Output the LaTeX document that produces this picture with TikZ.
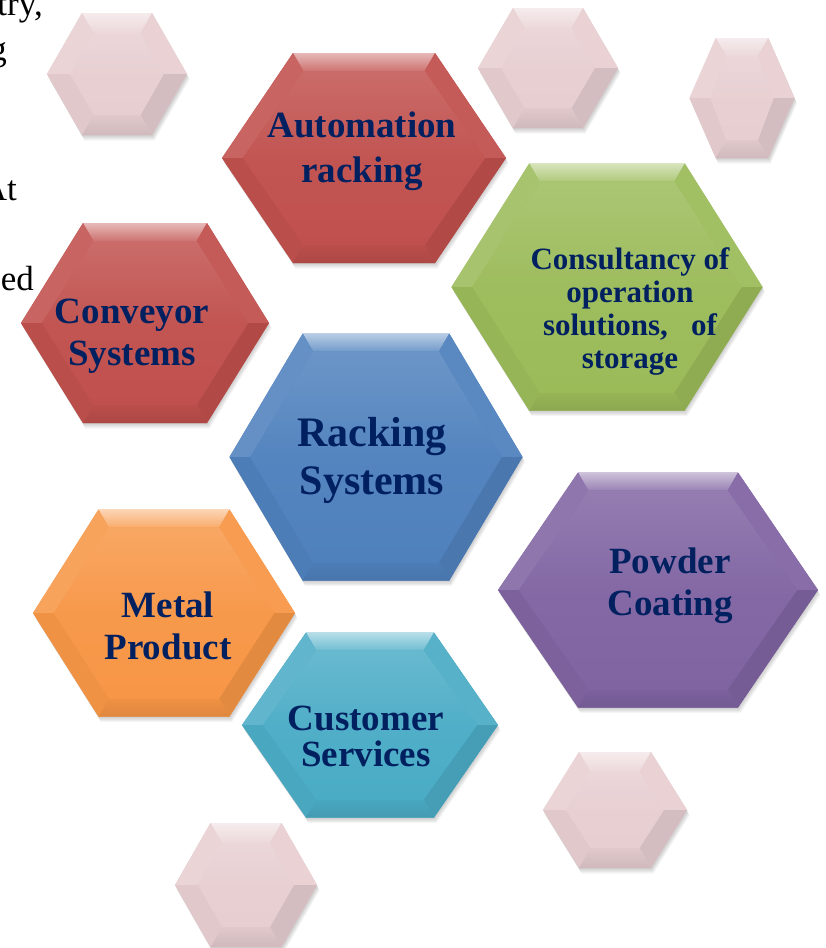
\documentclass[tikz,border=0pt]{standalone}
\usepackage{fontspec}
\setmainfont{Liberation Serif}
\definecolor{txtblue}{RGB}{0,32,96}
\definecolor{cred}{RGB}{192,80,77}
\definecolor{cgreen}{RGB}{155,187,89}
\definecolor{cblue}{RGB}{79,129,189}
\definecolor{cpurple}{RGB}{128,100,162}
\definecolor{corange}{RGB}{247,150,70}
\definecolor{cteal}{RGB}{75,172,198}
\definecolor{cpink}{RGB}{231,206,209}

% #1 cx, #2 cy, #3 width, #4 height, #5 colour, #6 bevel depth, #7 name
\newcommand{\bevelhex}[7]{%
\begin{scope}[shift={(#1,#2)}]
\pgfmathsetmacro\hw{#3/2}\pgfmathsetmacro\qw{#3/4}\pgfmathsetmacro\hh{#4/2}%
\pgfmathsetmacro\ihw{#3/2-1.155*#6}\pgfmathsetmacro\iqw{#3/4-0.577*#6}\pgfmathsetmacro\ihh{#4/2-#6}%
\coordinate (#7) at (0,0);
\foreach \k in {1,...,5}{%
  \begin{scope}[shift={(0.5*\k,1.1*\k)}]
  \fill[black,opacity=0.04] (-\hw,0)--(-\qw,-\hh)--(\qw,-\hh)--(\hw,0)--(\qw,\hh)--(-\qw,\hh)--cycle;
  \end{scope}}
\fill[#5] (-\hw,0)--(-\qw,-\hh)--(\qw,-\hh)--(\hw,0)--(\qw,\hh)--(-\qw,\hh)--cycle;
% top facet
\shade[top color=#5!40!white,bottom color=#5!80!white] (-\qw,-\hh)--(\qw,-\hh)--(\iqw,-\ihh)--(-\iqw,-\ihh)--cycle;
% upper left / right
\fill[#5!88!white] (-\hw,0)--(-\qw,-\hh)--(-\iqw,-\ihh)--(-\ihw,0)--cycle;
\fill[#5!94!white] (\hw,0)--(\qw,-\hh)--(\iqw,-\ihh)--(\ihw,0)--cycle;
% lower left / right
\fill[#5!97!black] (-\hw,0)--(-\qw,\hh)--(-\iqw,\ihh)--(-\ihw,0)--cycle;
\fill[#5!92!black] (\hw,0)--(\qw,\hh)--(\iqw,\ihh)--(\ihw,0)--cycle;
% bottom facet
\shade[top color=#5!97!black,bottom color=#5!90!black] (-\qw,\hh)--(\qw,\hh)--(\iqw,\ihh)--(-\iqw,\ihh)--cycle;
% inner face
\shade[top color=#5!84!white,bottom color=#5,middle color=#5!97!white] (-\ihw,0)--(-\iqw,-\ihh)--(\iqw,-\ihh)--(\ihw,0)--(\iqw,\ihh)--(-\iqw,\ihh)--cycle;
\end{scope}}

% #1 name, #2 x, #3 y, #4 size, #5 skip, #6 text
\newcommand{\hexlabel}[6]{%
\node[txt,font=\bfseries\fontsize{#4}{#5}\selectfont] (#1) at (#2,#3) {#6};}

\tikzset{
  txt/.style={text=txtblue,align=center,inner sep=0pt},
  frag/.style={text=black,anchor=base east,inner sep=0pt,font=\fontsize{35}{40}\selectfont},
}

\begin{document}
\begin{tikzpicture}[x=1pt,y=-1pt]
\useasboundingbox (0,0) rectangle (825,948);
\fill[white] (0,0) rectangle (825,948);
\begin{scope}
\clip (0,0) rectangle (825,948);

% left margin text fragments
\node[frag] (f1) at (43,15) {try,};
\node[frag] (f2) at (7,60) {g};
\node[frag] (f3) at (17,200) {At};
\node[frag] (f4) at (34,290) {ed};

% small pink hexagons
\bevelhex{117}{74}{140}{122}{cpink}{20}{p1}
\bevelhex{548}{68}{140}{120}{cpink}{20}{p2}
\bevelhex{742}{98}{105}{120}{cpink}{18}{p3}
\bevelhex{615}{810}{144}{116}{cpink}{20}{p4}
\bevelhex{246}{885}{142}{124}{cpink}{20}{p5}

% coloured hexagons
\bevelhex{364}{158}{284}{210}{cred}{18}{hauto}
\bevelhex{607}{287}{311}{247}{cgreen}{18}{hcons}
\bevelhex{145}{323}{248}{200}{cred}{18}{hconv}
\bevelhex{376}{457}{293}{247}{cblue}{18}{hrack}
\bevelhex{164}{613}{262}{207}{corange}{18}{hmetal}
\bevelhex{658}{590}{320}{235}{cpurple}{18}{hpowder}
\bevelhex{370}{725}{256}{185}{cteal}{18}{hcust}

% labels
\hexlabel{tauto}{362}{151}{37}{45}{Automation\\racking}
\hexlabel{tcons}{630}{312}{31}{33}{Consultancy of\\operation\\solutions,\ \ \ of\\storage}
\hexlabel{tconv}{132}{336}{37}{42}{Conveyor\\Systems}
\hexlabel{track}{372}{460}{42}{48}{Racking\\Systems}
\hexlabel{tmetal}{168}{626}{37}{42}{Metal\\Product}
\hexlabel{tpowder}{670}{586}{37}{42}{Powder\\Coating}
\hexlabel{tcust}{366}{736}{37}{36}{Customer\\Services}
\end{scope}
\end{tikzpicture}
\end{document}
